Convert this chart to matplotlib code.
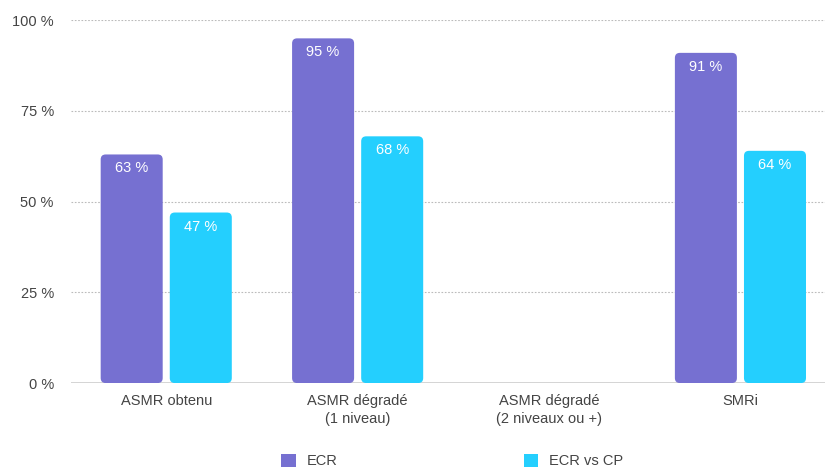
import numpy as np
import matplotlib
matplotlib.use("Agg")
import matplotlib.pyplot as plt
from matplotlib.patches import FancyBboxPatch

plt.rcParams['font.family'] = ['Liberation Sans', 'DejaVu Sans']

# data
categories = ["ASMR obtenu", "ASMR dégradé\n(1 niveau)", "ASMR dégradé\n(2 niveaux ou +)", "SMRi"]
ecr = [63, 95, np.nan, 91]
ecr_vs_cp = [47, 68, np.nan, 64]
series_names = ["ECR", "ECR vs CP"]
colors = ["#7670D1", "#24CFFE"]
yticks = [0, 25, 50, 75, 100]

fig = plt.figure(figsize=(8.25, 4.70), dpi=100)
ax = fig.add_axes([0.0855, 0.185, 0.928, 0.772])

x = np.arange(len(categories))
width = 0.324
gap = 0.037
offsets = [-(width + gap) / 2, (width + gap) / 2]

ax.set_xlim(-0.5, len(categories) - 0.5)
ax.set_ylim(0, 100)

# pixel aspect for rounded corners
bbox = ax.get_window_extent()
xpp = (len(categories)) / bbox.width
ypp = 100 / bbox.height
aspect = ypp / xpp
radius_px = 5
rs = radius_px * xpp

for vals, off, col in zip([ecr, ecr_vs_cp], offsets, colors):
    for xi, v in zip(x, vals):
        if np.isnan(v):
            continue
        left = xi + off - width / 2
        p = FancyBboxPatch((left, 0), width, v,
                           boxstyle=f"round,pad=0,rounding_size={rs}",
                           mutation_aspect=aspect,
                           fc=col, ec="none", zorder=3)
        ax.add_patch(p)
        ax.text(xi + off, v - 14 * ypp, f"{v:.0f} %", ha="center", va="center",
                color="white", fontsize=10.5, zorder=4)

# grid
for t in yticks[1:]:
    ax.axhline(t, color="#bbbbbb", lw=0.8, ls=(0, (1.5, 1.5)), zorder=1)
ax.axhline(0, color="#d0d0d0", lw=2, zorder=2)

ax.set_yticks(yticks)
ax.set_yticklabels([f"{t} %" for t in yticks])
ax.set_xticks(x)
ax.set_xticklabels(categories, linespacing=1.35)
ax.tick_params(length=0, labelsize=10.5, colors="#444444")
ax.tick_params(axis="y", pad=12)
ax.tick_params(axis="x", pad=8)
for s in ax.spines.values():
    s.set_visible(False)

handles = [plt.Rectangle((0, 0), 1, 1, fc=c, ec="none") for c in colors]
fig.legend(handles, series_names, loc="center", bbox_to_anchor=(0.548, 0.019),
           ncol=2, frameon=False, fontsize=10.5, handlelength=1.0, handleheight=1.0,
           handletextpad=0.7, columnspacing=12.8, labelcolor="#444444")

fig.savefig("out.png", dpi=100)
